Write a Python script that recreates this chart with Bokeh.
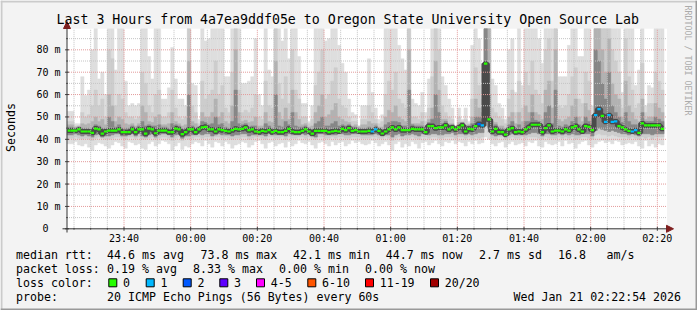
import math
from bokeh.plotting import figure
from bokeh.models import Label, BoxAnnotation, Arrow, NormalHead, Range1d
from bokeh.embed import file_html
from bokeh.resources import INLINE

# ---------------- data ----------------
t_start_min = 22.9          # 23:22:54, minutes after 23:00
t_end_min = 202.9           # 02:22:54
y_max_ms = 89.4
col_minutes = list(range(23, 202))   # one 60 s step per column

median_ms = [
    43.9, 43.9, 43.9, 44.4, 43.5, 43.5, 43.5, 42.9, 44.8, 44.4,
    42.5, 43.5, 43.9, 43.9, 43.9, 44.4, 43.2, 43.2, 43.2, 44.4,
    43.2, 44.4, 44.4, 42.5, 44.8, 44.4, 42.7, 43.9, 43.9, 43.9,
    43.2, 43.2, 44.8, 44.4, 42.3, 43.2, 44.4, 44.4, 43.2, 44.4,
    45.3, 45.6, 44.4, 44.4, 43.5,
    44.4, 44.1, 43.8, 43.5, 44.1, 44.7, 44.4, 44.7, 45.3, 44.1,
    44.4, 43.5, 43.2, 43.8, 43.5, 44.1, 43.2, 43.8, 43.2, 43.2,
    43.8, 44.7, 43.5, 43.2, 43.2, 43.8, 44.4, 43.5, 42.5, 43.8,
    43.8, 43.8, 43.8, 43.2, 43.5, 43.8, 43.5, 44.7, 44.1, 45.0,
    43.8, 44.1, 43.5, 43.5, 43.5,
    43.8, 43.5, 44.4, 43.8, 42.6, 43.5, 44.4, 45.3, 44.4, 45.3,
    44.1, 44.1, 44.1, 44.7, 44.4, 44.4, 44.4, 43.2, 45.9, 45.9,
    45.0, 45.3, 45.3, 46.2, 44.4, 45.3, 44.4, 45.3, 46.2, 43.5,
    44.7, 44.4, 45.9, 46.8, 46.2, 73.8, 48.9, 43.5, 44.7, 43.2,
    43.2, 42.1, 44.4, 45.0, 43.2,
    43.5, 43.2, 44.4, 45.4, 46.5, 46.5, 46.5, 43.2, 45.0, 46.2,
    43.5, 43.9, 43.9, 43.5, 44.4, 43.9, 45.3, 45.9, 44.4, 43.5,
    45.9, 45.6, 44.1, 50.8, 53.5, 50.5, 47.8, 50.8, 47.8, 48.0,
    45.9, 45.3, 44.4, 43.8, 43.5, 44.1, 42.9, 47.1, 46.2, 46.2,
    46.2, 46.2, 46.2, 44.7,
]

loss_count = [
    0, 0, 0, 0, 0, 0, 0, 0, 0, 0,
    0, 0, 0, 0, 0, 0, 0, 0, 0, 0,
    0, 0, 0, 0, 0, 0, 0, 0, 0, 0,
    0, 0, 0, 0, 0, 0, 0, 0, 0, 0,
    0, 0, 0, 0, 0,
    0, 0, 0, 0, 0, 0, 0, 0, 0, 0,
    0, 0, 0, 0, 0, 0, 0, 0, 0, 0,
    0, 0, 0, 0, 0, 0, 0, 0, 0, 0,
    0, 0, 0, 0, 0, 0, 0, 0, 0, 0,
    0, 0, 0, 0, 0,
    0, 1, 1, 0, 0, 0, 0, 0, 0, 0,
    0, 0, 0, 0, 0, 0, 0, 0, 0, 0,
    0, 0, 0, 0, 0, 0, 0, 0, 0, 0,
    0, 0, 0, 2, 1, 0, 0, 0, 0, 0,
    0, 0, 0, 0, 0,
    0, 0, 0, 0, 0, 0, 0, 0, 0, 0,
    0, 0, 0, 0, 0, 0, 0, 0, 0, 0,
    0, 0, 0, 1, 1, 0, 1, 1, 1, 1,
    0, 0, 0, 0, 1, 1, 0, 0, 0, 0,
    0, 0, 0, 0,
]

# smoke bands (ms), outer/lightest first; 95 = off the top of the chart
smoke_top1 = [
    52.5, 52.5, 47, 47, 68, 59.6, 62, 80, 95, 67,
    70, 60, 95, 95, 71, 95, 95, 66, 55, 56,
    55, 56, 95, 95, 77, 67, 95, 95, 58, 58,
    63, 81, 67, 58, 58, 55, 95, 65, 64, 49,
    95, 84, 85, 95, 95,
    95, 95, 68, 68, 95, 95, 95, 65, 65, 66,
    68, 85, 60, 55, 95, 71, 68, 95, 95, 84,
    95, 76, 95, 95, 77, 56, 56, 48, 55, 95,
    95, 95, 84, 85, 95, 95, 82, 74, 70, 58,
    52, 51, 46, 55, 55,
    76, 61, 54, 49, 51, 95, 95, 95, 95, 82,
    76, 71, 95, 58, 56, 55, 61, 52, 67, 95,
    95, 95, 68, 64, 58, 54, 46, 54, 49, 54,
    48, 82, 95, 85, 74, 95, 95, 67, 64, 56,
    54, 49, 80, 85, 61,
    95, 64, 95, 95, 95, 95, 85, 74, 95, 95,
    95, 95, 68, 68, 68, 82, 95, 95, 77, 77,
    95, 95, 55, 95, 95, 95, 95, 95, 95, 95,
    95, 61, 95, 95, 95, 64, 71, 95, 55, 64,
    63, 95, 95, 95,
]
smoke_top2 = [
    48, 48, 46, 46, 52, 50, 51, 55, 62, 55,
    58, 50, 80, 76, 55, 60, 58, 52, 50, 50,
    49, 50, 70, 65, 55, 52, 60, 62, 50, 50,
    52, 62, 54, 50, 49, 50, 95, 55, 52, 47,
    66, 58, 60, 62, 75,
    60, 64, 54, 52, 70, 95, 62, 52, 53, 52,
    54, 60, 50, 49, 66, 55, 54, 95, 65, 58,
    68, 56, 80, 62, 58, 50, 50, 47, 49, 64,
    70, 80, 58, 60, 66, 72, 58, 55, 54, 50,
    48, 48, 46, 49, 49,
    55, 52, 49, 47, 48, 60, 66, 62, 70, 58,
    56, 54, 95, 50, 50, 49, 52, 48, 54, 68,
    95, 80, 55, 52, 50, 49, 46, 50, 48, 49,
    47, 58, 72, 64, 58, 95, 95, 54, 52, 50,
    49, 47, 58, 62, 52,
    66, 54, 70, 64, 75, 62, 60, 56, 80, 85,
    66, 95, 55, 54, 55, 60, 68, 72, 58, 56,
    70, 66, 50, 95, 95, 95, 90, 95, 80, 75,
    70, 54, 85, 68, 62, 54, 56, 74, 52, 56,
    56, 70, 66, 62,
]
smoke_top3 = [
    46.5, 46.5, 45.5, 46, 47, 46.5, 47, 48, 50, 48,
    49, 46.5, 60, 55, 48, 50, 49, 47, 46.5, 47,
    46, 47, 55, 52, 48, 47.5, 50, 51, 46.5, 46.5,
    47, 52, 48, 47, 46, 46.5, 75, 48, 47, 46,
    52, 50, 50, 52, 58,
    50, 52, 48, 47, 55, 80, 52, 48, 48.5, 47.5,
    48, 50, 46, 46, 52, 48, 47.5, 75, 52, 49,
    54, 49, 62, 52, 49, 46.5, 47, 45.5, 46, 52,
    55, 60, 50, 51, 53, 56, 50, 49, 48, 47.5,
    46, 46.5, 45.5, 46.5, 46.5,
    48, 47, 47, 45.5, 45.5, 50, 53, 52, 55, 50,
    49, 48, 80, 47, 47, 47, 48, 46, 49, 54,
    75, 62, 49, 49, 47, 47, 45.5, 47.5, 47.5, 46,
    46.5, 50, 58, 54, 52, 95, 95, 48, 47.5, 46,
    46, 45, 50, 52, 47,
    52, 48, 55, 52, 60, 52, 51, 49, 62, 66,
    54, 80, 49, 48, 49, 50, 55, 58, 50, 48,
    56, 53, 47, 95, 90, 80, 70, 85, 65, 60,
    58, 50, 66, 55, 52, 49, 48, 58, 49, 50,
    50, 56, 54, 52,
]
smoke_top4 = [
    45.5, 45.5, 45, 45.5, 45, 45, 45, 45, 46.5, 46,
    45, 45, 50, 48, 45.5, 46.5, 45, 45, 45, 46,
    45, 46, 48, 46, 46.5, 46, 46, 46.5, 45.5, 45.5,
    45, 47, 46.5, 46, 44.5, 45, 60, 46, 45, 45.5,
    48, 47.5, 46.5, 47, 50,
    46.5, 47, 45.5, 45, 48, 62, 47, 46.5, 47, 45.5,
    46, 46, 45, 45, 47, 46, 45, 60, 46, 45.5,
    48, 46.5, 52, 46, 45.5, 45.5, 46, 45, 44.5, 47,
    48, 50, 46, 46, 47, 48, 46, 46.5, 46, 46.5,
    45.5, 45.5, 45, 45, 45,
    45.5, 45, 46, 45, 44.5, 46.5, 47.5, 48, 48, 47.5,
    46, 46, 62, 46.5, 46, 46, 46, 45, 47.5, 49,
    60, 52, 47, 48, 46, 46.5, 45.5, 46.5, 47.5, 45,
    46, 47, 50, 50, 49, 95, 60, 45.5, 46.5, 45,
    45, 44, 46.5, 48, 45,
    46.5, 45, 48, 48, 52, 48.5, 48, 45.5, 52, 55,
    47, 62, 46, 45.5, 46.5, 46, 48, 50, 46.5, 45.5,
    50, 48, 46, 80, 75, 65, 58, 70, 55, 52,
    50, 47.5, 52, 48, 46.5, 46.5, 45, 52, 48, 48,
    48, 50, 49, 48,
]
smoke_bot1 = [
    38, 38, 39, 37.5, 37, 38, 36.5, 35, 37.5, 38.5,
    38, 37, 36, 37.5, 39, 38.5, 37, 36, 39, 38.5,
    37.5, 38, 36, 35.5, 38, 39, 37, 38, 39.5, 39,
    38, 35, 37, 38.5, 35.5, 37, 36.5, 38, 39, 38.5,
    37, 39.5, 38, 36.5, 39,
    38.5, 37, 39, 38, 36, 37.5, 38, 39, 38.5, 36.5,
    37.5, 39, 39.5, 38, 36, 38.5, 39, 37, 38, 38.5,
    36.5, 39, 37, 38, 39.5, 38.5, 38, 39, 37.5, 36,
    38.5, 39, 38, 37, 39, 37.5, 38.5, 39, 37, 38,
    39.5, 38.5, 39, 38, 37.5,
    38, 39.5, 38.5, 37, 38, 39, 37.5, 35, 38, 39,
    36.5, 38, 37, 39, 38, 36, 38.5, 39, 37.5, 38.5,
    39.5, 38, 37, 39, 38.5, 39.5, 38, 39, 38.5, 37,
    39, 38, 39.5, 38, 38.5, 41, 40, 38, 37, 38.5,
    39, 36.5, 38, 39, 37.5,
    38, 38.5, 37, 39, 38.5, 39.5, 37, 36.5, 39, 38,
    37.5, 38, 39, 37, 39.5, 38, 38.5, 36, 38, 39,
    39.5, 37.5, 36.5, 38, 39, 39.5, 38.5, 39, 38, 39.5,
    39, 37.5, 38, 38.5, 38, 39, 37, 36, 39.5, 37,
    38, 36.5, 38, 37.5,
]
smoke_bot2 = [
    40.5, 40.5, 41, 40.5, 40, 40.5, 40, 39.5, 40.5, 41,
    40.5, 40, 40, 40.5, 41, 41, 40.5, 40, 41, 41,
    40.5, 41, 40, 40, 40.5, 41, 40, 40.5, 41, 41,
    40.5, 39.5, 40.5, 41, 39.5, 40.5, 40, 40.5, 41, 41,
    40.5, 41, 41, 40, 41,
    41, 40.5, 41, 40.5, 40, 40.5, 40.5, 41, 41, 40,
    40.5, 41, 41, 40.5, 40, 41, 41, 40.5, 40.5, 41,
    40, 41, 40.5, 40.5, 41, 41, 40.5, 41, 40.5, 40,
    41, 41, 40.5, 40.5, 41, 40.5, 41, 41, 40.5, 40.5,
    41, 41, 41, 40.5, 40.5,
    40.5, 41, 41, 40.5, 40.5, 41, 40.5, 39.5, 40.5, 41,
    40, 40.5, 40.5, 41, 40.5, 40, 41, 41, 40.5, 41,
    41, 40.5, 40.5, 41, 41, 41, 40.5, 41, 41, 40.5,
    41, 40.5, 41, 40.5, 41, 46, 43, 40.5, 40, 41,
    41, 40, 40.5, 41, 40.5,
    40.5, 41, 40.5, 41, 41, 41, 40.5, 40, 41, 40.5,
    40.5, 40.5, 41, 40.5, 41, 40.5, 41, 40, 40.5, 41,
    41, 40.5, 40, 42, 42.5, 42, 42, 41.5, 42, 41.5,
    41, 41, 41, 40.5, 41, 40.5, 40, 41, 40.5, 41,
    40, 41, 41, 41,
]
smoke_bot3 = [
    42, 42, 42.5, 42, 41.5, 42, 41.5, 41, 42, 42.5,
    41, 41.5, 41.5, 42, 42.5, 42.5, 41.5, 41.5, 42, 42.5,
    41.5, 42.5, 41.5, 41, 42, 42.5, 41, 42, 42.5, 42.5,
    42, 41, 42, 42.5, 40.5, 41.5, 41.5, 42, 42, 42.5,
    42, 42.5, 42.5, 41.5, 42,
    42.5, 42, 42, 42, 41.5, 42, 42, 42.5, 42.5, 41.5,
    42, 42, 42, 42, 41.5, 42.5, 42, 42, 42, 42,
    41.5, 42.5, 42, 42, 42, 42.5, 42, 42.5, 42, 41,
    42.5, 42.5, 42, 42, 42, 42, 42.5, 42.5, 42, 42,
    42.5, 42.5, 42.5, 42, 42,
    42, 42, 42.5, 42, 41.5, 42, 42, 41, 42, 42.5,
    41.5, 42, 42, 42.5, 42, 41.5, 42.5, 42.5, 42, 42.5,
    42.5, 42, 42, 42.5, 42.5, 43, 42, 42.5, 42.5, 42,
    42.5, 42, 42.5, 43, 43, 48, 45, 42, 41.5, 42,
    42, 41, 42, 42.5, 42,
    42, 42, 42, 42.5, 43, 43, 42.5, 41.5, 42.5, 42.5,
    42, 42, 42.5, 42, 42.5, 42, 42.5, 42, 42, 42.5,
    42.5, 42.5, 41.5, 44, 45, 44.5, 44, 43.5, 44, 43.5,
    43, 42.5, 42.5, 42, 42.5, 42, 41.5, 42.5, 42.5, 42.5,
    42, 42.5, 42.5, 42.5,
]
# dense dark core where all pings were slow (the spike)
dense_minutes = [148]
dense_bottom = [48.5]
dense_top = [74.5]

x_tick_values = [40, 60, 80, 100, 120, 140, 160, 180, 200]
x_tick_labels = ["23:40", "00:00", "00:20", "00:40", "01:00", "01:20", "01:40", "02:00", "02:20"]
y_tick_values = [0, 10, 20, 30, 40, 50, 60, 70, 80]
y_tick_labels = ["0\u00a0\u00a0", "10 m", "20 m", "30 m", "40 m", "50 m", "60 m", "70 m", "80 m"]

loss_names = ["0", "1", "2", "3", "4-5", "6-10", "11-19", "20/20"]
loss_colors = ["#26ff00", "#00b8ff", "#0059ff", "#5e00ff", "#ff00ff", "#ff5500", "#ff0000", "#a10000"]

title_text = "Last 3 Hours from 4a7ea9ddf05e to Oregon State University Open Source Lab"
stats_rtt = ["median rtt:", "44.6 ms avg", "73.8 ms max", "42.1 ms min", "44.7 ms now",
             "2.7 ms sd", "16.8", "am/s"]
stats_loss = ["packet loss:", "0.19 % avg", "8.33 % max", "0.00 % min", "0.00 % now"]
probe_text = "20 ICMP Echo Pings (56 Bytes) every 60s"
date_text = "Wed Jan 21 02:22:54 2026"

# ---------------- layout (canvas pixels) ----------------
W, H = 697, 310
FL, FR, FT, FB = 66.5, 666.5, 28.3, 228.3      # plot area in canvas px
MONO = "DejaVu Sans Mono"
PXM = (FR - FL) / (t_end_min - t_start_min)    # px per minute
PXY = (FB - FT) / y_max_ms                     # px per ms

x_range = Range1d(t_start_min - FL / PXM, t_start_min + (W - FL) / PXM)
y_range = Range1d(-(H - FB) / PXY, FB / PXY)

p = figure(width=W, height=H, x_range=x_range, y_range=y_range,
           x_axis_location=None, y_axis_location=None, min_border=0,
           output_backend="svg", toolbar_location=None, title=None)
p.grid.visible = False
p.background_fill_color = "#f3f3f3"
p.border_fill_color = "#f3f3f3"
p.outline_line_color = None


def sx(cx):
    return cx


def sy(cy):
    return H - cy


def put(text, cx, cy, size, align="left", baseline="middle", color="#000000", angle=0.0,
        x_units="screen", y_units="screen"):
    x = sx(cx) if x_units == "screen" else cx
    y = sy(cy) if y_units == "screen" else cy
    p.add_layout(Label(x=x, y=y, x_units=x_units, y_units=y_units, text=text,
                       text_font=MONO, text_font_size=f"{size}px", text_color=color,
                       text_align=align, text_baseline=baseline, angle=angle))


# white canvas of the graph
p.add_layout(BoxAnnotation(left=t_start_min, right=t_end_min, bottom=0, top=y_max_ms,
                           fill_color="#ffffff", fill_alpha=1, line_color=None, level="underlay"))

# smoke
right_edges = [m + 1 for m in col_minutes]
bands = [(smoke_bot1, smoke_top1, "#dedede"), (smoke_bot2, smoke_top2, "#cdcdcd"),
         (smoke_bot3, smoke_top3, "#b2b2b2"), (smoke_bot3, smoke_top4, "#878787")]
for bot, top, col in bands:
    p.quad(left=col_minutes, right=right_edges, bottom=bot, top=[min(v, y_max_ms) for v in top],
           fill_color=col, line_color=col, line_width=0.5)
p.quad(left=dense_minutes, right=[m + 1 for m in dense_minutes], bottom=dense_bottom, top=dense_top,
       fill_color="#2e2e2e", line_color="#2e2e2e", line_width=0.5)

step_x, step_y = [], []
for m, v in zip(col_minutes, median_ms):
    step_x += [m, m + 1]
    step_y += [v, v]
p.line(step_x, step_y, line_color="#4a4a4a", line_width=5)

# grid (dotted, on top of the smoke)
x_minor = [m for m in range(25, 205, 5) if m % 20 != 0]
y_minor = [5, 15, 25, 35, 45, 55, 65, 75, 85]
minor_col, major_col = "#c4c4c4", "#e39a9a"
p.segment(x0=x_minor, x1=x_minor, y0=[0] * len(x_minor), y1=[y_max_ms] * len(x_minor),
          line_color=minor_col, line_dash="1 1", line_width=1)
p.segment(x0=[t_start_min] * len(y_minor), x1=[t_end_min] * len(y_minor), y0=y_minor, y1=y_minor,
          line_color=minor_col, line_dash="1 1", line_width=1)
p.segment(x0=x_tick_values, x1=x_tick_values, y0=[0] * len(x_tick_values), y1=[y_max_ms] * len(x_tick_values),
          line_color=major_col, line_dash="1 1", line_width=1)
yt_inner = y_tick_values[1:]
p.segment(x0=[t_start_min] * len(yt_inner), x1=[t_end_min] * len(yt_inner), y0=yt_inner, y1=yt_inner,
          line_color=major_col, line_dash="1 1", line_width=1)


# median, coloured by loss
def loss_index(n):
    if n <= 3:
        return n
    if n <= 5:
        return 4
    if n <= 10:
        return 5
    if n <= 19:
        return 6
    return 7


p.segment(x0=col_minutes, x1=right_edges, y0=median_ms, y1=median_ms,
          line_color=[loss_colors[loss_index(n)] for n in loss_count], line_width=2.2)

# tick marks
tk = 2 / PXY
p.segment(x0=x_tick_values, x1=x_tick_values, y0=[-tk] * len(x_tick_values), y1=[tk] * len(x_tick_values),
          line_color="#444444", line_width=1)
p.segment(x0=x_minor, x1=x_minor, y0=[-tk / 2] * len(x_minor), y1=[tk / 2] * len(x_minor),
          line_color="#666666", line_width=1)
tkx = 2 / PXM
p.segment(x0=[t_start_min - tkx] * len(y_tick_values), x1=[t_start_min + tkx] * len(y_tick_values),
          y0=y_tick_values, y1=y_tick_values, line_color="#444444", line_width=1)
p.segment(x0=[t_start_min - tkx / 2] * len(y_minor), x1=[t_start_min + tkx / 2] * len(y_minor),
          y0=y_minor, y1=y_minor, line_color="#666666", line_width=1)

# axis lines with arrows
head_col = "#7f1f1f"
p.add_layout(Arrow(x_start=sx(62), y_start=sy(FB), x_end=sx(673), y_end=sy(FB),
                   start_units="screen", end_units="screen", line_color="#333333", line_width=1,
                   end=NormalHead(size=7, fill_color=head_col, line_color=head_col)))
p.add_layout(Arrow(x_start=sx(FL), y_start=sy(232), x_end=sx(FL), y_end=sy(21),
                   start_units="screen", end_units="screen", line_color="#333333", line_width=1,
                   end=NormalHead(size=7, fill_color=head_col, line_color=head_col)))

# tick labels
for v, t in zip(x_tick_values, x_tick_labels):
    put(t, v, 238.3, 10, align="center", x_units="data")
for v, t in zip(y_tick_values, y_tick_labels):
    put(t, 60, v, 10, align="right", y_units="data")

# texts
put(title_text, 347.2, 19, 13.25, align="center")
put("Seconds", 10.5, 127, 11.6, align="center", angle=math.pi / 2)
put("RRDTOOL / TOBI OETIKER", 687, 5, 8.3, align="left", color="#ababab", angle=-math.pi / 2)

rows_y = [254.3, 268.3, 282.3, 296.0]
rtt_x = [15.5, 106.6, 200.0, 292.6, 385.3, 478.6, 557.6, 606.0]
loss_x = [15.5, 106.6, 192.6, 278.6, 364.6]
for txt, x in zip(stats_rtt, rtt_x):
    put(txt, x, rows_y[0], 11.6)
for txt, x in zip(stats_loss, loss_x):
    put(txt, x, rows_y[1], 11.6)
put("loss color:", 15.5, rows_y[2], 11.6)
box_left = [108.3, 145.7, 182.7, 219.3, 256, 307.3, 365, 430]
for bx, name, col in zip(box_left, loss_names, loss_colors):
    p.add_layout(BoxAnnotation(left=sx(bx), right=sx(bx + 8), bottom=sy(rows_y[2] + 4), top=sy(rows_y[2] - 4),
                               left_units="screen", right_units="screen", bottom_units="screen", top_units="screen",
                               fill_color=col, fill_alpha=1, line_color="#000000", line_width=1, line_alpha=1))
    put(name, bx + 14.2, rows_y[2], 11.6)
put("probe:", 15.5, rows_y[3], 11.6)
put(probe_text, 106.6, rows_y[3], 11.6)
put(date_text, 680.5, rows_y[3], 11.6, align="right")

# canvas border (rrdtool shade)
for (l, r, t, b, col) in [(0, 2, 0, 310, "#cbcbcb"), (0, 697, 0, 2, "#cbcbcb"),
                          (695, 697, 0, 310, "#999999"), (0, 697, 308, 310, "#999999")]:
    p.add_layout(BoxAnnotation(left=sx(l), right=sx(r), top=sy(t), bottom=sy(b),
                               left_units="screen", right_units="screen", bottom_units="screen", top_units="screen",
                               fill_color=col, fill_alpha=1, line_color=None))

open("out.html", "w").write(file_html(p, INLINE))
